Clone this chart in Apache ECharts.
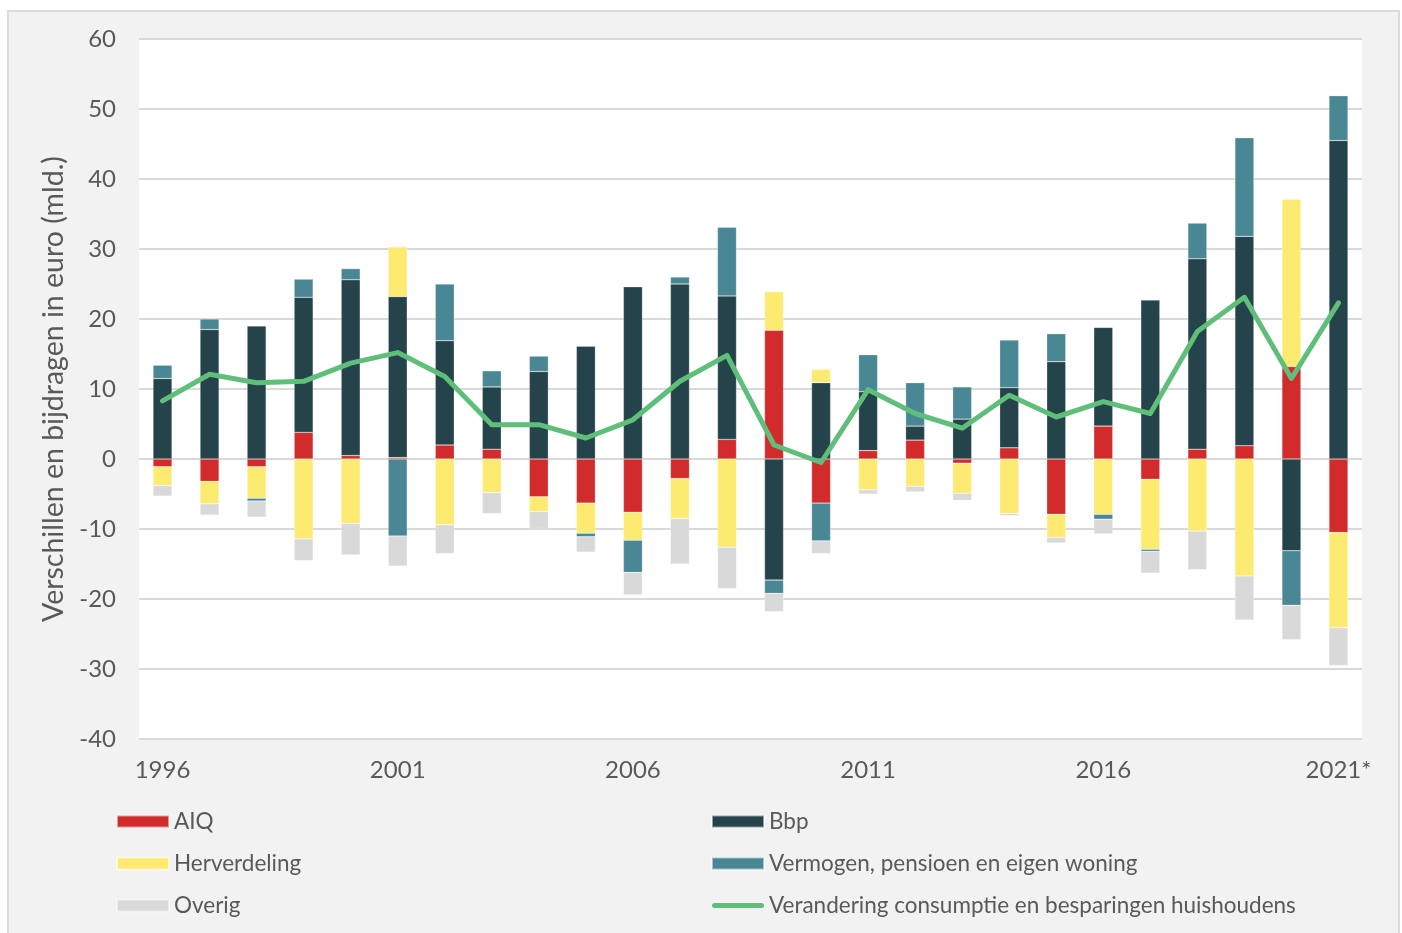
<!DOCTYPE html>
<html>
<head>
<meta charset="utf-8">
<script src="https://cdn.jsdelivr.net/npm/echarts@6/dist/echarts.min.js"></script>
<style>
  html, body { margin: 0; padding: 0; background: #fff; }
  .frame {
    position: absolute; left: 7px; top: 10px;
    width: 1389px; height: 930px;
    background: #f2f2f2; border: 2px solid #dcdcdc;
  }
  #chart { position: absolute; left: 0; top: 0; width: 1402px; height: 933px; }
</style>
</head>
<body>
<div class="frame"></div>
<div id="chart"></div>
<script>
const years = ['1996', '1997', '1998', '1999', '2000', '2001', '2002', '2003', '2004', '2005',
  '2006', '2007', '2008', '2009', '2010', '2011', '2012', '2013', '2014', '2015',
  '2016', '2017', '2018', '2019', '2020', '2021*'];

const aiq = [-1.1, -3.2, -1.1, 3.8, 0.5, 0.2, 2.0, 1.4, -5.4, -6.3, -7.6, -2.8, 2.8, 18.4, -6.3, 1.2, 2.7, -0.6, 1.6, -7.9, 4.7, -2.9, 1.4, 1.9, 13.2, -10.5];
const bbp = [11.5, 18.5, 19.0, 19.3, 25.1, 23.0, 14.9, 8.9, 12.5, 16.1, 24.6, 25.0, 20.5, -17.3, 10.9, 8.4, 2.0, 5.7, 8.6, 13.9, 14.1, 22.7, 27.2, 29.9, -13.1, 45.5];
const herverdeling = [-2.7, -3.2, -4.5, -11.4, -9.2, 7.1, -9.4, -4.8, -2.1, -4.3, -4.0, -5.7, -12.6, 5.5, 1.9, -4.4, -3.9, -4.3, -7.8, -3.3, -7.9, -10.0, -10.3, -16.7, 23.9, -13.6];
const vermogen = [1.9, 1.5, -0.4, 2.6, 1.6, -11.0, 8.1, 2.3, 2.2, -0.5, -4.6, 1.0, 9.8, -1.9, -5.4, 5.3, 6.2, 4.6, 6.8, 4.0, -0.7, -0.3, 5.1, 14.1, -7.8, 6.4];
const overig = [-1.5, -1.6, -2.3, -3.1, -4.5, -4.3, -4.1, -3.0, -2.4, -2.2, -3.2, -6.5, -5.9, -2.6, -1.8, -0.6, -0.8, -1.0, -0.3, -0.8, -2.1, -3.1, -5.5, -6.3, -4.9, -5.4];
const verandering = [8.3, 12.1, 10.9, 11.1, 13.7, 15.2, 11.8, 4.9, 4.9, 3.0, 5.6, 11.1, 14.8, 2.0, -0.5, 9.9, 6.5, 4.4, 9.1, 6.0, 8.2, 6.5, 18.2, 23.1, 11.5, 22.3];

const font = 'Lato, "Noto Sans", sans-serif';
const textColor = '#595959';
const green = '#5fbf7a';

function bar(name, data, color) {
  return {
    name: name,
    type: 'bar',
    stack: 'total',
    barWidth: 19,
    data: data,
    itemStyle: { color: color, borderColor: 'rgba(255,255,255,0.5)', borderWidth: 0.5 }
  };
}

const chart = echarts.init(document.getElementById('chart'));
const legendText = { color: textColor, fontSize: 22.5, fontFamily: font, lineHeight: 22 };
// thin rounded stroke used as the line's legend mark
const lineIcon = 'path://M2.5,0 L49.5,0 A2.5,2.5 0 0 1 49.5,5 L2.5,5 A2.5,2.5 0 0 1 2.5,0 Z';

chart.setOption({
  backgroundColor: 'transparent',
  animation: false,
  textStyle: { fontFamily: font },
  grid: {
    left: 139, top: 39, width: 1223, height: 700,
    show: true, backgroundColor: '#fff', borderWidth: 0
  },
  legend: [
    {
      orient: 'vertical', left: 116, top: 810, padding: 0,
      itemWidth: 52, itemHeight: 12, itemGap: 19,
      icon: 'rect',
      textStyle: legendText,
      data: ['AIQ', 'Herverdeling', 'Overig']
    },
    {
      orient: 'vertical', left: 711, top: 810, padding: 0,
      itemWidth: 52, itemHeight: 12, itemGap: 19,
      textStyle: legendText,
      data: [
        { name: 'Bbp', icon: 'rect' },
        { name: 'Vermogen, pensioen en eigen woning', icon: 'rect' },
        { name: 'Verandering consumptie en besparingen huishoudens', icon: lineIcon,
          itemStyle: { color: green } }
      ]
    }
  ],
  xAxis: {
    type: 'category',
    data: years,
    axisLine: { show: false, onZero: false },
    axisTick: { show: false },
    axisLabel: {
      interval: 4,
      color: textColor, fontSize: 24, fontFamily: font,
      margin: 19
    }
  },
  yAxis: {
    type: 'value',
    min: -40, max: 60, interval: 10,
    name: 'Verschillen en bijdragen in euro (mld.)',
    nameLocation: 'middle',
    nameGap: 66,
    nameTextStyle: { color: textColor, fontSize: 28.5, fontFamily: font },
    axisLine: { show: false },
    axisTick: { show: false },
    axisLabel: { color: textColor, fontSize: 24, fontFamily: font, margin: 23 },
    splitLine: { lineStyle: { color: '#d9d9d9', width: 2 } }
  },
  series: [
    bar('AIQ', aiq, '#d22b2b'),
    bar('Bbp', bbp, '#25434a'),
    bar('Herverdeling', herverdeling, '#fdeb71'),
    bar('Vermogen, pensioen en eigen woning', vermogen, '#4a8795'),
    bar('Overig', overig, '#d9d9d9'),
    {
      name: 'Verandering consumptie en besparingen huishoudens',
      type: 'line',
      data: verandering,
      symbol: 'none',
      z: 5,
      itemStyle: { color: green },
      lineStyle: { color: green, width: 5, join: 'round', cap: 'round' }
    }
  ]
});
</script>
</body>
</html>
